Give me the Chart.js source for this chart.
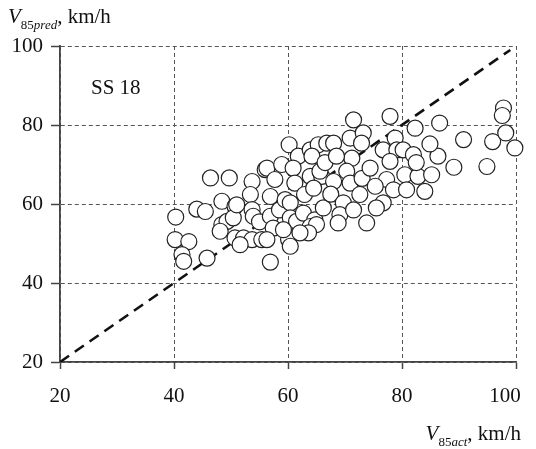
<!DOCTYPE html>
<html>
<head>
<meta charset="utf-8">
<script src="https://cdn.jsdelivr.net/npm/chart.js@4"></script>
<style>
  html, body { margin: 0; padding: 0; background: #fff; }
  #wrap { position: relative; width: 536px; height: 449px; overflow: hidden; }
  canvas { position: absolute; left: 0; top: 0; }
  .lbl { position: absolute; font-family: "Liberation Serif", "DejaVu Serif", serif; font-size: 21px; color: #111; line-height: 21px; white-space: nowrap; }
  .sub { font-size: 13px; position: relative; top: 6px; }
</style>
</head>
<body>
<div id="wrap">
  <canvas id="c" width="536" height="449"></canvas>
  <div class="lbl" style="left:8px; top:6px;"><i>V</i><span class="sub">85<i>pred</i></span>, km/h</div>
  <div class="lbl" style="left:91px; top:77px;">SS 18</div>
  <div class="lbl" style="right:15px; top:423px;"><i>V</i><span class="sub">85<i>act</i></span>, km/h</div>
</div>
<script>
// Actual 85th-percentile speed (km/h)
const actSpeed = [
  40.3, 40.2, 42.6, 41.4, 41.7, 45.8, 46.4, 49.7, 44.0, 45.5, 48.4, 50.7, 48.4, 49.3, 50.4, 48.1,
  50.7, 52.2, 53.7, 51.6, 53.7, 53.4, 53.7, 56.0, 56.9, 51.0, 55.4, 53.9, 55.0,
  56.3, 58.9, 57.7, 56.9, 56.9, 57.4, 56.3, 58.5,
  60.2, 61.8, 60.9, 61.2, 59.5, 60.4, 60.4, 61.0, 60.1, 60.4, 61.5, 59.2,
  63.9, 65.3, 66.8, 64.2, 63.9, 65.9, 62.9, 62.7, 64.7, 66.2, 63.9, 65.0, 63.6, 62.1, 65.6, 64.5, 66.5,
  68.0, 70.9, 71.5, 73.2, 72.9, 71.2, 68.5, 70.3, 68.0, 70.9, 67.5, 72.6, 69.7, 69.1, 68.8, 73.8, 71.5, 73.0, 74.4,
  76.7, 77.9, 78.8, 79.1, 77.9, 77.3, 75.3, 78.5, 76.7, 75.5,
  80.2, 82.0, 82.3, 80.5, 82.8, 80.8, 84.0, 85.2, 86.3, 84.9, 86.6, 82.5,
  89.1, 90.8, 94.9, 95.9, 97.8, 97.6, 98.2, 99.8
];
// Predicted 85th-percentile speed (km/h)
const predSpeed = [
  56.7, 51.0, 50.5, 47.2, 45.5, 46.3, 66.6, 66.6, 58.7, 58.1, 60.7, 59.4, 54.8, 55.6, 56.5, 53.1,
  51.4, 51.4, 51.0, 49.7, 65.7, 62.4, 58.6, 68.7, 45.3, 59.8, 51.0, 56.9, 55.5,
  69.1, 70.0, 66.2, 61.9, 56.9, 53.9, 51.0, 58.5,
  75.0, 72.1, 69.1, 65.3, 61.1, 60.3, 56.5, 53.5, 51.0, 49.3, 55.6, 53.5,
  73.7, 75.0, 75.4, 72.1, 67.0, 67.0, 62.4, 57.7, 56.0, 59.0, 54.3, 54.8, 52.7, 52.7, 68.3, 64.0, 70.5,
  75.4, 76.7, 81.3, 78.0, 75.4, 71.6, 72.1, 68.3, 65.7, 65.3, 62.5, 62.4, 60.3, 57.3, 55.2, 55.2, 58.5, 66.5, 69.1,
  73.7, 82.2, 76.7, 73.7, 70.8, 66.2, 64.5, 63.6, 60.3, 59.0,
  73.7, 72.5, 79.2, 67.4, 67.0, 63.6, 63.2, 67.4, 72.1, 75.2, 80.5, 70.5,
  69.3, 76.3, 69.5, 75.8, 84.3, 82.4, 78.0, 74.2
];
const axisTicks = [20, 40, 60, 80, 100];
const equalityX = [20, 99];
const equalityY = [20, 99];

const points = actSpeed.map((x, i) => ({ x: x, y: predSpeed[i] }));
const equality = equalityX.map((x, i) => ({ x: x, y: equalityY[i] }));

const tickFont = { family: "'Liberation Serif', 'DejaVu Serif', serif", size: 21 };

const shiftLastLabel = {
  id: 'shiftLastLabel',
  afterLayout(chart) {
    try {
      const s = chart.scales.x;
      const items = s.getLabelItems(chart.chartArea);
      const last = items[items.length - 1];
      if (last && last.options && last.options.translation) last.options.translation[0] -= 11;
    } catch (e) {}
  }
};

new Chart(document.getElementById('c'), {
  type: 'scatter',
  data: {
    datasets: [
      {
        type: 'line',
        data: equality,
        borderColor: '#111',
        borderWidth: 2.6,
        borderDash: [11, 7],
        pointRadius: 0,
        fill: false,
        order: 2
      },
      {
        data: points,
        pointRadius: 8,
        pointBackgroundColor: '#fff',
        pointBorderColor: '#222',
        pointBorderWidth: 1.2,
        pointHoverRadius: 8,
        clip: false,
        order: 1
      }
    ]
  },
  plugins: [shiftLastLabel],
  options: {
    responsive: false,
    animation: false,
    events: [],
    layout: { padding: { top: 46, right: 20, left: 0, bottom: 0 } },
    plugins: { legend: { display: false }, tooltip: { enabled: false } },
    scales: {
      x: {
        type: 'linear', min: axisTicks[0], max: axisTicks[axisTicks.length - 1],
        afterBuildTicks: (s) => { s.ticks = axisTicks.map(v => ({ value: v })); },
        afterFit: (s) => { s.height = 87; s.paddingLeft = 0; s.paddingRight = 0; },
        ticks: { font: tickFont, color: '#111', padding: 15, maxRotation: 0 },
        grid: { color: '#555', lineWidth: 1, tickLength: 7, tickColor: '#444', tickWidth: 1.5 },
        border: { color: '#444', width: 1.8, dash: [4, 3] }
      },
      y: {
        type: 'linear', min: axisTicks[0], max: axisTicks[axisTicks.length - 1],
        afterBuildTicks: (s) => { s.ticks = axisTicks.map(v => ({ value: v })); },
        afterFit: (s) => { s.width = 60; s.paddingTop = 0; s.paddingBottom = 0; },
        ticks: { font: tickFont, color: '#111', padding: 8 },
        grid: { color: '#555', lineWidth: 1, tickLength: 9, tickColor: '#444', tickWidth: 1.5 },
        border: { color: '#444', width: 1.8, dash: [4, 3] }
      }
    }
  }
});
</script>
</body>
</html>
